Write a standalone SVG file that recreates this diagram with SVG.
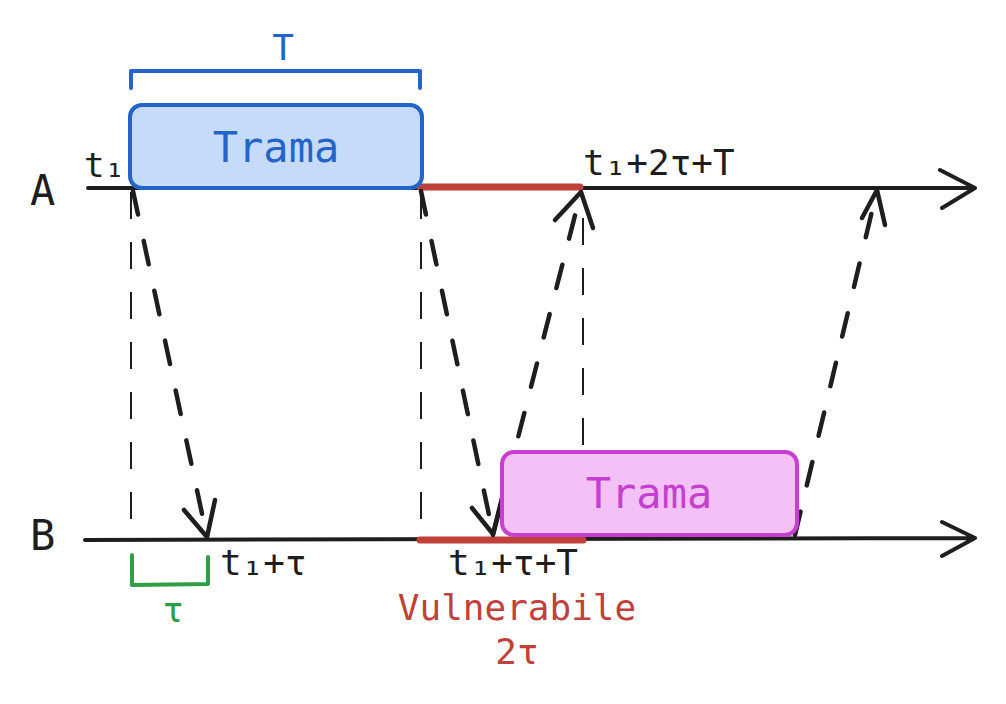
<svg xmlns="http://www.w3.org/2000/svg" width="1006" height="704" viewBox="0 0 1006 704">
<style>
text{font-family:"DejaVu Sans Mono","Liberation Mono",monospace;}
.axis{stroke:#1e1e1e;stroke-width:4;fill:none;stroke-linecap:round;stroke-linejoin:round;}
.dash{stroke:#1e1e1e;stroke-width:4.5;fill:none;stroke-linecap:round;stroke-dasharray:24 27;}
.head{stroke:#1e1e1e;stroke-width:4.5;fill:none;stroke-linecap:round;stroke-linejoin:round;}
.thin{stroke:#1e1e1e;stroke-width:2;fill:none;stroke-dasharray:27 23;}
.red{stroke:#c0403a;stroke-width:7;fill:none;stroke-linecap:round;}
.lbl{font-size:36px;fill:#1e1e1e;}
</style>
<rect width="1006" height="704" fill="#ffffff"/>
<g id="axes">
  <path class="axis" d="M88 188 L975 188 M940 170 L975 188 L942 208"/>
  <path class="axis" d="M85 540 L975 538 M942 522 L975 538 L942 556"/>
  <text x="30" y="205" style="font-size:42px;fill:#1e1e1e">A</text>
  <text x="30" y="550" style="font-size:42px;fill:#1e1e1e">B</text>
</g>
<g id="vulnerable-window">
  <path class="red" d="M420 187 L580 187"/>
  <path class="red" d="M420 540 L583 540"/>
  <text x="517" y="620" text-anchor="middle" style="font-size:36px;fill:#c0403a">Vulnerabile</text>
  <text x="517" y="664" text-anchor="middle" style="font-size:36px;fill:#c0403a">2τ</text>
</g>
<g id="connectors">
  <path class="thin" d="M131 192 L131 540"/>
  <path class="thin" d="M421 192 L421 540"/>
  <path class="thin" d="M583 218 L583 455"/>
  <path class="dash" d="M133 191 L207 537"/>
  <path class="head" d="M184 510 L207 537 L215 500"/>
  <path class="dash" d="M421 191 L493 534"/>
  <path class="head" d="M472 508 L493 534 L502 498"/>
  <path class="dash" d="M493 535 L581 192"/>
  <path class="head" d="M555 220 L581 192 L593 228"/>
  <path class="dash" d="M795 535 L877 190"/>
  <path class="head" d="M862 218 L877 190 L885 225"/>
</g>
<g id="frame-a">
  <rect x="130" y="105" width="292" height="83" rx="12" fill="#c6dbf9" stroke="#2464c8" stroke-width="4"/>
  <text x="276" y="162" text-anchor="middle" style="font-size:42px;fill:#2464c8">Trama</text>
</g>
<g id="frame-b">
  <rect x="502" y="452" width="295" height="83" rx="12" fill="#f3c1f5" stroke="#c640cf" stroke-width="4"/>
  <text x="649" y="508" text-anchor="middle" style="font-size:42px;fill:#c640cf">Trama</text>
</g>
<g id="bracket-T">
  <path d="M131 88 L131 71 L420 71 L420 88" fill="none" stroke="#2464c8" stroke-width="4" stroke-linecap="round" stroke-linejoin="round"/>
  <text x="283" y="60" text-anchor="middle" style="font-size:36px;fill:#2464c8">T</text>
</g>
<g id="bracket-tau">
  <path d="M132 555 L132 585 L208 584 L208 557" fill="none" stroke="#2f9e44" stroke-width="4" stroke-linecap="round" stroke-linejoin="round"/>
  <text x="173" y="622" text-anchor="middle" style="font-size:36px;fill:#2f9e44">τ</text>
</g>
<g id="labels">
  <text class="lbl" x="84" y="177" style="font-size:34px">t₁</text>
  <text class="lbl" x="583" y="175">t₁+2τ+T</text>
  <text class="lbl" x="220" y="575">t₁+τ</text>
  <text class="lbl" x="448" y="575">t₁+τ+T</text>
</g>
</svg>
